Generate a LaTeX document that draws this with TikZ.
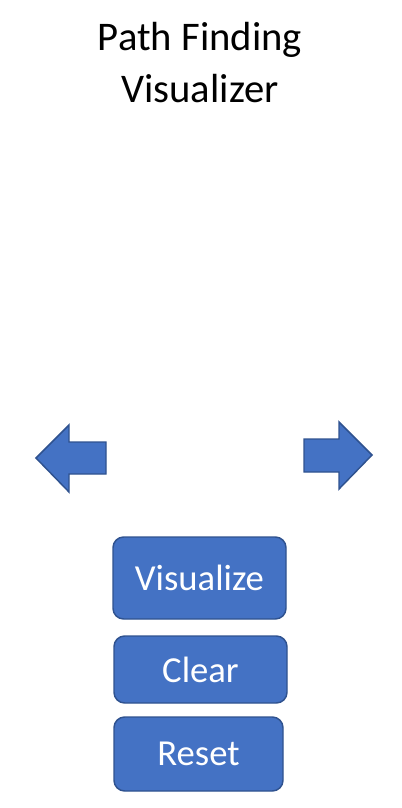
\documentclass[tikz,border=0pt]{standalone}
\usepackage{fontspec}
\setmainfont{Carlito}
\usepackage{tikz}
\definecolor{btnfill}{HTML}{4472C4}
\definecolor{btnline}{HTML}{2F528F}
\tikzset{button/.style={draw=btnline,fill=btnfill,line width=1.1pt,rounded corners=8pt,
    text=white,font=\fontsize{27.5}{32}\selectfont,inner sep=0pt}}
\tikzset{arrowshape/.style={draw=btnline,fill=btnfill,line width=1.1pt,line join=miter}}

\begin{document}
\begin{tikzpicture}[x=0.75pt,y=-0.75pt]
                \useasboundingbox (0,0) rectangle (401,808);
                
                % Title
                \node[font=\fontsize{30.5}{39}\selectfont,align=center] (title) at (200,63) {Path Finding\\Visualizer};
                
                % Arrows
                \draw[arrowshape] (36,458) -- (69,425) -- (69,442) -- (106,442) -- (106,474) -- (69,474) -- (69,492) -- cycle;
                \draw[arrowshape] (372,455) -- (339,422) -- (339,439) -- (304,439) -- (304,472) -- (339,472) -- (339,489) -- cycle;
                
                % Buttons
                \node[button,minimum width=173*0.75pt,minimum height=82*0.75pt] (visualize) at (199.5,578) {Visualize};
                \node[button,minimum width=173*0.75pt,minimum height=67*0.75pt] (clear) at (200.5,669.5) {Clear};
                \node[button,minimum width=169*0.75pt,minimum height=74*0.75pt] (reset) at (198.5,754) {Reset};
            \end{tikzpicture}
\end{document}
